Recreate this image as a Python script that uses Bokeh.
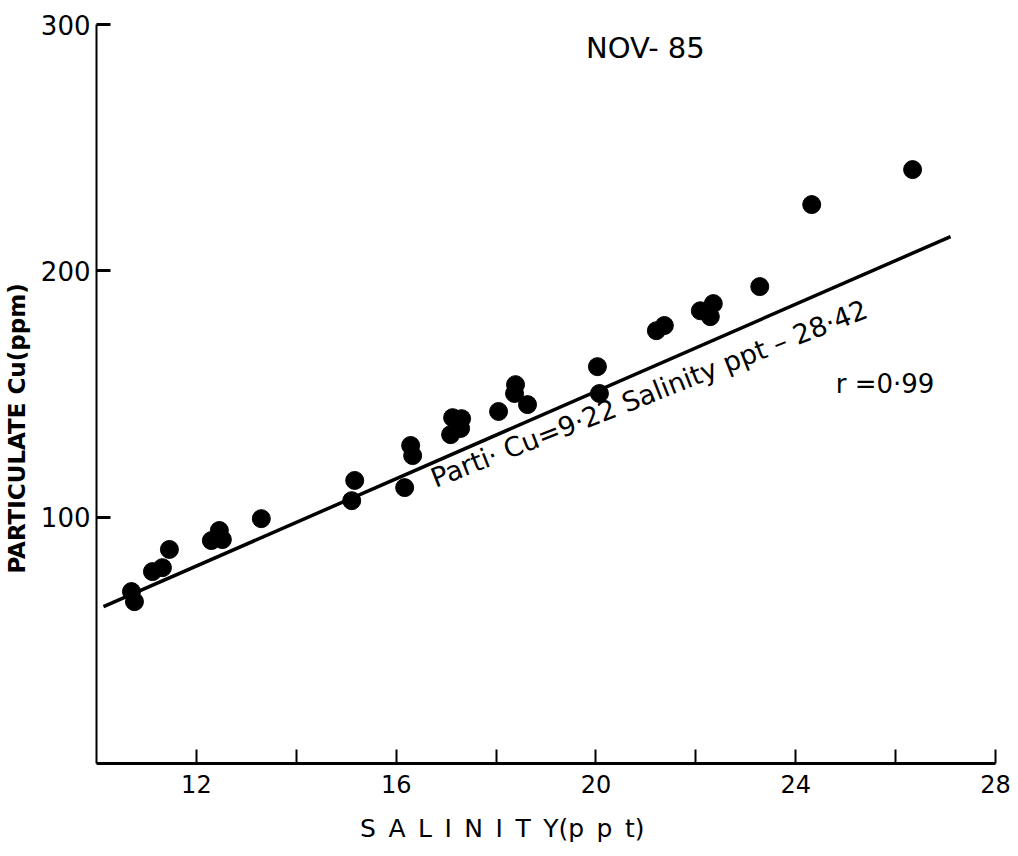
import math
from bokeh.plotting import figure
from bokeh.models import FixedTicker, Label, ColumnDataSource
from bokeh.embed import file_html
from bokeh.resources import INLINE

# Data
salinity = [10.70, 10.76, 11.12, 11.32, 11.46, 12.30, 12.46, 12.52, 13.30,
            15.11, 15.17, 16.17, 16.29, 16.33, 17.09, 17.13, 17.29, 17.31,
            18.05, 18.37, 18.39, 18.63, 20.03, 20.07, 21.21, 21.37, 22.09,
            22.29, 22.35, 23.28, 24.32, 26.34]
particulate_cu = [69.8, 65.7, 77.9, 79.5, 86.9, 90.5, 94.6, 90.9, 99.4,
                  106.7, 114.9, 112.0, 129.1, 125.0, 133.5, 140.4, 136.0, 140.0,
                  142.9, 150.2, 153.8, 145.7, 161.1, 150.2, 175.7, 177.8, 183.8,
                  181.4, 186.7, 193.6, 226.9, 241.1]

fit_x = [10.14, 27.10]
fit_y = [63.7, 213.9]

x_ticks = [12, 16, 20, 24, 28]
x_minor_ticks = [14, 18, 22, 26]
y_ticks = [100, 200, 300]

title_text = "NOV- 85"
equation_text = "Parti· Cu=9·22 Salinity ppt – 28·42"
r_text = "r =0·99"
EN = "\u2002"
x_label_text = EN.join("SALINITY") + "(" + EN.join("ppt") + ")" + EN * 7
y_label_text = "PARTICULATE Cu(ppm)" + EN * 6

FONT = "DejaVu Sans"

p = figure(width=1018, height=856, x_range=(10, 28), y_range=(0, 300),
           output_backend="svg", toolbar_location=None,
           min_border_left=96, min_border_right=23,
           min_border_top=24, min_border_bottom=93,
           x_axis_label=x_label_text, y_axis_label=y_label_text)

p.outline_line_color = None
p.xgrid.visible = False
p.ygrid.visible = False
p.background_fill_color = "white"
p.border_fill_color = "white"

# x axis
p.xaxis.ticker = FixedTicker(ticks=x_ticks, minor_ticks=x_minor_ticks)
p.xaxis.major_tick_in = 14
p.xaxis.major_tick_out = 0
p.xaxis.minor_tick_in = 14
p.xaxis.minor_tick_out = 0
p.xaxis.major_tick_line_width = 2
p.xaxis.minor_tick_line_width = 2
p.xaxis.axis_line_width = 3
p.xaxis.major_label_standoff = 11
p.xaxis.major_label_text_font = FONT
p.xaxis.major_label_text_font_size = "24px"
p.xaxis.major_label_text_color = "black"
p.xaxis.axis_label_text_font = FONT
p.xaxis.axis_label_text_font_size = "25px"
p.xaxis.axis_label_text_font_style = "normal"
p.xaxis.axis_label_text_color = "black"
p.xaxis.axis_label_standoff = 18

# y axis
p.yaxis.ticker = FixedTicker(ticks=y_ticks, minor_ticks=[])
p.yaxis.major_tick_in = 14
p.yaxis.major_tick_out = 0
p.yaxis.major_tick_line_width = 3
p.yaxis.axis_line_width = 2
p.yaxis.major_label_standoff = 6
p.yaxis.major_label_text_font = FONT
p.yaxis.major_label_text_font_size = "26px"
p.yaxis.major_label_text_color = "black"
p.yaxis.axis_label_text_font = FONT
p.yaxis.axis_label_text_font_size = "23px"
p.yaxis.axis_label_text_font_style = "bold"
p.yaxis.axis_label_text_color = "black"
p.yaxis.axis_label_standoff = 8

src = ColumnDataSource(dict(x=salinity, y=particulate_cu))
p.line(fit_x, fit_y, line_color="black", line_width=3.5)
p.scatter("x", "y", source=src, size=18, fill_color="black", line_color="black")

p.add_layout(Label(x=20.99, y=290.6, text=title_text, text_font=FONT,
                   text_font_size="29px", text_align="center",
                   text_baseline="middle", text_color="black"))
p.add_layout(Label(x=16.83, y=109.6, text=equation_text, text_font=FONT,
                   text_font_size="27px", text_align="left",
                   text_baseline="bottom", angle=math.radians(21.5),
                   text_color="black"))
p.add_layout(Label(x=24.80, y=154.2, text=r_text, text_font=FONT,
                   text_font_size="26px", text_align="left",
                   text_baseline="middle", text_color="black"))

open("out.html", "w").write(file_html(p, INLINE))
